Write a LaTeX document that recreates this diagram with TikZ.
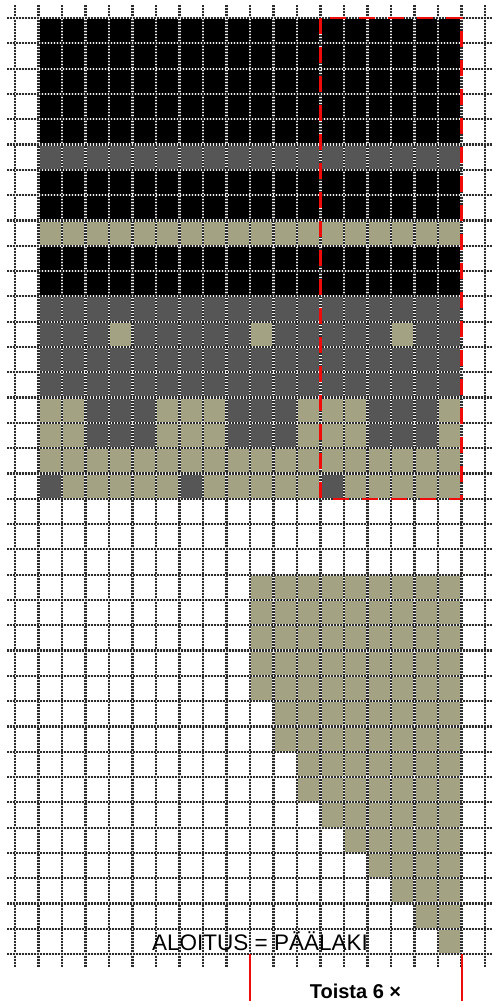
\documentclass[tikz,border=0pt]{standalone}
\usepackage{fontspec}
\setmainfont{Liberation Sans}
\definecolor{khaki}{RGB}{163,162,130}
\definecolor{dgray}{RGB}{86,86,86}
\definecolor{redline}{RGB}{240,10,10}
\definecolor{gridlight}{RGB}{238,238,238}
\definecolor{griddark}{RGB}{45,45,45}
\newcommand\cellblock[5]{\fill[#1] ({38.5+(#2-1)*23.5},{18+(#4-1)*25.3}) rectangle ({38.5+#3*23.5},{18+#5*25.3});}
\tikzset{
  gridbase/.style={line width=2.2pt, draw=gridlight},
  griddots/.style={line width=2.2pt, draw=griddark, dash pattern=on 1.5pt off 1.5pt},
  repbox/.style={draw=redline, line width=2.2pt, dash pattern=on 16pt off 13pt},
  repline/.style={draw=redline, line width=2pt},
  labeltext/.style={anchor=base, inner sep=0pt, font=\fontsize{22.5}{25}\selectfont},
  repeattext/.style={anchor=base, inner sep=0pt, font=\bfseries\fontsize{20}{23}\selectfont}
}
\begin{document}
\begin{tikzpicture}[x=1pt,y=-1pt]
\useasboundingbox (0,0) rectangle (492,1001);
\fill[white] (0,0) rectangle (492,1001);
% upper pattern
\cellblock{black}{1}{18}{1}{5}
\cellblock{dgray}{1}{18}{6}{6}
\cellblock{black}{1}{18}{7}{8}
\cellblock{khaki}{1}{18}{9}{9}
\cellblock{black}{1}{18}{10}{11}
\cellblock{dgray}{1}{18}{12}{17}
\foreach \c in {4,10,16} {\cellblock{khaki}{\c}{\c}{13}{13}}
\cellblock{khaki}{1}{2}{16}{17}
\cellblock{khaki}{6}{8}{16}{17}
\cellblock{khaki}{12}{14}{16}{17}
\cellblock{khaki}{18}{18}{16}{17}
\cellblock{khaki}{1}{18}{18}{19}
\foreach \c in {1,7,13} {\cellblock{dgray}{\c}{\c}{19}{19}}
% crown triangle
\cellblock{khaki}{10}{18}{23}{27}
\cellblock{khaki}{11}{18}{28}{29}
\cellblock{khaki}{12}{18}{30}{31}
\cellblock{khaki}{13}{18}{32}{32}
\cellblock{khaki}{14}{18}{33}{33}
\cellblock{khaki}{15}{18}{34}{34}
\cellblock{khaki}{16}{18}{35}{35}
\cellblock{khaki}{17}{18}{36}{36}
\cellblock{khaki}{18}{18}{37}{37}
% grid
\foreach \k in {0,...,20} {
  \draw[gridbase] ({15+23.5*\k},5) -- ({15+23.5*\k},967);
  \draw[griddots] ({15+23.5*\k},5) -- ({15+23.5*\k},967);
}
\foreach \r in {0,...,37} {
  \draw[gridbase] (7,{18+25.3*\r}) -- (492,{18+25.3*\r});
  \draw[griddots] (7,{18+25.3*\r}) -- (492,{18+25.3*\r});
}
% repeat box
\draw[repbox] (320.5,18) rectangle (461.5,498.7);
\coordinate (ra) at (250,954.1);
\coordinate (rb) at (250,1001);
\coordinate (rc) at (461.8,954.1);
\coordinate (rd) at (461.8,1001);
\draw[repline] (ra) -- (rb);
\draw[repline] (rc) -- (rd);
% texts
\node[labeltext] (aloitus) at (260,950.5) {ALOITUS = PÄÄLAKI};
\node[repeattext] (toista) at (355.5,998) {Toista 6 ×};
\end{tikzpicture}
\end{document}
